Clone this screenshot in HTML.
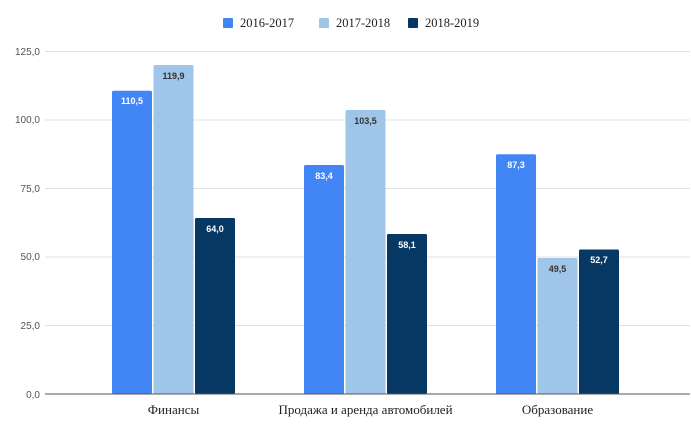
<!DOCTYPE html>
<html><head><meta charset="utf-8"><style>body{margin:0;background:#fff}</style></head><body>
<svg width="691" height="428" xmlns="http://www.w3.org/2000/svg" font-family="Liberation Sans, sans-serif">
<rect width="691" height="428" fill="#fff"/>
<g stroke="#e0e0e0" stroke-width="1">
<line x1="45" x2="690" y1="51.5" y2="51.5"/>
<line x1="45" x2="690" y1="120" y2="120"/>
<line x1="45" x2="690" y1="188.5" y2="188.5"/>
<line x1="45" x2="690" y1="257" y2="257"/>
<line x1="45" x2="690" y1="325.5" y2="325.5"/>
</g>
<g font-size="10" fill="#555" text-anchor="end">
<text x="40" y="55">125,0</text>
<text x="40" y="123">100,0</text>
<text x="40" y="192">75,0</text>
<text x="40" y="260">50,0</text>
<text x="40" y="329">25,0</text>
<text x="40" y="398">0,0</text>
</g>
<g>
<rect x="112" y="90.7" width="40" height="303" fill="#4285f4" rx="1.5"/>
<rect x="153.5" y="65" width="40" height="329" fill="#9fc5e8" rx="1.5"/>
<rect x="195" y="218" width="40" height="176" fill="#073763" rx="1.5"/>
<rect x="304" y="165" width="40" height="229" fill="#4285f4" rx="1.5"/>
<rect x="345.5" y="110" width="40" height="284" fill="#9fc5e8" rx="1.5"/>
<rect x="387" y="234" width="40" height="160" fill="#073763" rx="1.5"/>
<rect x="496" y="154.3" width="40" height="240" fill="#4285f4" rx="1.5"/>
<rect x="537.5" y="258" width="40" height="136" fill="#9fc5e8" rx="1.5"/>
<rect x="579" y="249.5" width="40" height="145" fill="#073763" rx="1.5"/>
</g>
<line x1="45" x2="690" y1="394" y2="394" stroke="#555" stroke-width="1"/>
<g font-size="9" text-anchor="middle" font-weight="bold">
<text x="132" y="104" fill="#fff">110,5</text>
<text x="173.5" y="79" fill="#333">119,9</text>
<text x="215" y="232" fill="#fff">64,0</text>
<text x="324" y="179" fill="#fff">83,4</text>
<text x="365.5" y="124" fill="#333">103,5</text>
<text x="407" y="248" fill="#fff">58,1</text>
<text x="516" y="168" fill="#fff">87,3</text>
<text x="557.5" y="272" fill="#333">49,5</text>
<text x="599" y="263" fill="#fff">52,7</text>
</g>
<g font-family="Liberation Serif, serif" font-size="13" fill="#222" text-anchor="middle">
<text x="173.5" y="414">Финансы</text>
<text x="365.5" y="414">Продажа и аренда автомобилей</text>
<text x="557.5" y="414">Образование</text>
</g>
<g font-family="Liberation Serif, serif" font-size="12.5" fill="#222">
<rect x="223" y="18" width="10" height="10" fill="#4285f4" rx="1"/>
<text x="240" y="27">2016-2017</text>
<rect x="319" y="18" width="10" height="10" fill="#9fc5e8" rx="1"/>
<text x="336" y="27">2017-2018</text>
<rect x="408" y="18" width="10" height="10" fill="#073763" rx="1"/>
<text x="425" y="27">2018-2019</text>
</g>
</svg>
</body></html>
